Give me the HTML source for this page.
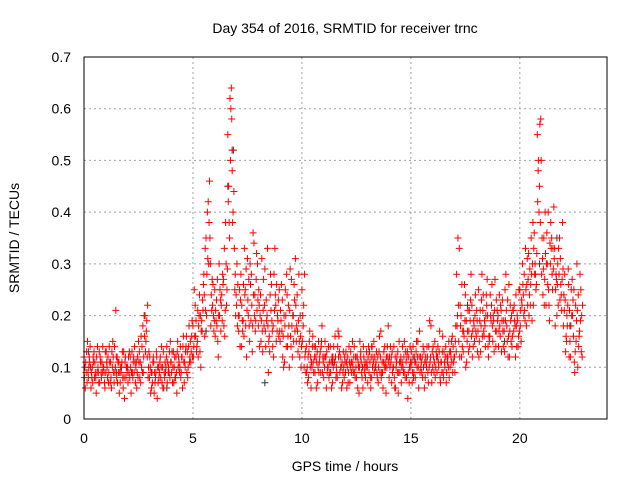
<!DOCTYPE html>
<html><head><meta charset="utf-8"><style>
body{margin:0;background:#fff}
svg{display:block;font-family:"Liberation Sans",sans-serif}
</style></head><body>
<svg id="chart" width="640" height="480" viewBox="0 0 640 480" xmlns="http://www.w3.org/2000/svg">
<rect width="640" height="480" fill="#fff"/>
<text x="345" y="33" font-size="14" text-anchor="middle">Day 354 of 2016, SRMTID for receiver trnc</text>
<text x="345" y="471" font-size="14" text-anchor="middle">GPS time / hours</text>
<text transform="translate(19,238) rotate(-90)" font-size="14" text-anchor="middle">SRMTID / TECUs</text>
<g id="grid"></g>
<g id="ticks"></g>
<g id="marks"></g>
<rect x="84" y="57" width="523" height="362" fill="none" stroke="#000" stroke-width="1"/>
</svg>
<script>
const xTicks=[0,5,10,15,20];
const yTicks=[0,0.1,0.2,0.3,0.4,0.5,0.6,0.7];
const yTickLabels=["0","0.1","0.2","0.3","0.4","0.5","0.6","0.7"];
const seriesA=[.12,.09,.08,.10,.07,.11,.09,.13,.08,.10,.09,.12,.07,.10,.14,.08,.11,.09,.06,.12,.10,.08,.13,.09,.11,.15,.07,.18,.20,.12,.08,.06,.11,.09,.07,.12,.10,.08,.14,.09,.11,.13,.08,.15,.10,.12,.07,.16,.14,.11,.18,.22,.15,.24,.19,.28,.35,.42,.30,.22,.25,.18,.30,.22,.27,.38,.55,.62,.48,.33,.22,.17,.28,.19,.25,.31,.15,.22,.34,.27,.18,.24,.13,.29,.20,.16,.26,.12,.22,.19,.15,.23,.11,.28,.18,.14,.20,.31,.17,.12,.25,.10,.14,.08,.12,.16,.09,.13,.11,.15,.08,.12,.10,.14,.07,.11,.09,.16,.10,.13,.09,.12,.07,.11,.14,.08,.10,.13,.06,.11,.10,.13,.08,.15,.11,.07,.12,.09,.14,.10,.08,.12,.10,.06,.13,.09,.11,.15,.08,.12,.10,.14,.08,.12,.17,.09,.13,.11,.07,.12,.10,.15,.09,.13,.11,.08,.14,.12,.10,.16,.12,.28,.15,.20,.13,.24,.17,.14,.22,.18,.16,.25,.13,.21,.18,.27,.15,.22,.19,.14,.20,.16,.23,.13,.18,.26,.15,.21,.12,.19,.25,.22,.28,.18,.32,.26,.38,.30,.55,.45,.28,.35,.22,.40,.30,.25,.33,.20,.28,.24,.18,.13,.22,.15,.27,.11,.19,.14,.25];
const seriesB=[.08,.13,.10,.06,.12,.09,.14,.07,.11,.09,.13,.07,.11,.15,.09,.12,.05,.10,.13,.08,.07,.12,.09,.14,.06,.11,.16,.09,.13,.22,.12,.09,.05,.13,.10,.08,.06,.11,.07,.13,.09,.07,.12,.10,.14,.06,.11,.09,.18,.13,.12,.16,.21,.13,.17,.24,.20,.30,.18,.26,.16,.27,.20,.24,.18,.30,.42,.50,.38,.25,.30,.20,.14,.26,.18,.23,.30,.13,.20,.32,.25,.15,.21,.17,.33,.13,.19,.28,.15,.23,.21,.12,.18,.24,.10,.27,.15,.22,.13,.20,.15,.28,.09,.13,.06,.11,.14,.07,.12,.18,.12,.06,.14,.09,.12,.16,.08,.13,.06,.10,.13,.07,.10,.15,.09,.12,.05,.11,.14,.08,.07,.11,.14,.09,.13,.10,.17,.06,.11,.14,.12,.07,.14,.10,.05,.11,.14,.09,.12,.07,.13,.08,.11,.15,.09,.12,.06,.10,.14,.18,.14,.08,.12,.17,.09,.13,.07,.10,.13,.09,.09,.18,.33,.12,.17,.10,.21,.19,.12,.15,.21,.12,.18,.24,.14,.20,.16,.26,.13,.23,.14,.22,.17,.25,.15,.12,.20,.17,.24,.14,.18,.30,.21,.26,.20,.35,.22,.28,.42,.57,.35,.22,.30,.25,.38,.33,.18,.26,.35,.21,.24,.16,.29,.12,.20,.09,.30,.16,.13];
const seriesC=[.10,.07,.12,.09,.11,.08,.10,.12,.09,.07,.11,.09,.08,.12,.10,.07,.09,.11,.08,.10,.12,.10,.08,.11,.09,.13,.10,.12,.15,.08,.10,.07,.09,.12,.08,.10,.13,.09,.11,.08,.13,.10,.09,.12,.08,.14,.10,.13,.11,.16,.14,.19,.12,.20,.23,.16,.28,.38,.24,.20,.21,.15,.25,.19,.33,.22,.45,.60,.40,.28,.18,.25,.22,.16,.29,.20,.26,.18,.24,.21,.22,.19,.27,.14,.18,.24,.17,.21,.26,.16,.19,.16,.25,.14,.21,.18,.26,.15,.19,.16,.20,.12,.10,.15,.11,.09,.12,.10,.13,.09,.10,.13,.08,.11,.10,.12,.14,.09,.11,.08,.11,.09,.13,.10,.08,.12,.10,.09,.12,.10,.12,.08,.10,.12,.09,.13,.08,.11,.10,.12,.10,.13,.08,.11,.09,.12,.10,.08,.13,.10,.11,.09,.13,.10,.12,.08,.11,.14,.10,.09,.12,.10,.14,.08,.13,.11,.09,.15,.12,.14,.15,.20,.12,.26,.16,.19,.13,.23,.17,.20,.19,.15,.23,.17,.20,.14,.24,.18,.21,.17,.17,.21,.14,.19,.23,.17,.14,.22,.18,.16,.21,.26,.19,.31,.24,.28,.33,.25,.48,.38,.31,.27,.36,.22,.33,.29,.25,.30,.23,.27,.21,.15,.26,.18,.23,.13,.21,.17,.20];
const seriesD=[.06,.15,.11,.08,.13,.05,.09,.11,.14,.06,.10,.14,.06,.09,.21,.11,.07,.13,.04,.10,.09,.05,.11,.07,.12,.08,.14,.20,.17,.10,.05,.11,.07,.04,.09,.14,.06,.10,.09,.15,.07,.12,.05,.11,.09,.16,.13,.08,.12,.19,.25,.13,.18,.10,.21,.33,.40,.46,.21,.17,.19,.12,.23,.28,.16,.25,.38,.64,.52,.20,.26,.14,.19,.33,.12,.27,.19,.36,.17,.30,.14,.31,.18,.23,.09,.28,.14,.33,.17,.25,.26,.10,.20,.16,.29,.12,.23,.18,.28,.10,.18,.13,.07,.17,.10,.14,.06,.15,.09,.12,.15,.09,.11,.06,.14,.08,.17,.12,.07,.12,.06,.14,.11,.09,.12,.06,.15,.08,.10,.13,.14,.06,.12,.10,.08,.16,.09,.13,.05,.18,.14,.09,.06,.12,.15,.07,.09,.13,.04,.14,.07,.12,.15,.06,.10,.14,.08,.12,.19,.07,.09,.13,.11,.07,.16,.10,.12,.08,.15,.11,.18,.35,.22,.14,.26,.11,.17,.28,.14,.24,.13,.19,.28,.16,.24,.12,.20,.15,.27,.21,.24,.13,.19,.28,.12,.22,.16,.19,.14,.25,.15,.24,.33,.22,.29,.19,.36,.26,.50,.58,.24,.40,.30,.19,.35,.41,.28,.22,.31,.38,.28,.20,.12,.25,.16,.22,.10,.28,.12];
const seriesE=[.11,.09,.14,.10,.08,.12,.07,.09,.10,.13,.08,.11,.13,.07,.12,.09,.10,.08,.11,.09,.13,.09,.12,.10,.08,.11,.09,.16,.19,.13,.09,.12,.08,.10,.11,.07,.09,.12,.10,.11,.10,.08,.13,.09,.12,.11,.14,.10,.15,.12,.16,.14,.20,.17,.26,.21,.31,.35,.27,.19,.23,.20,.17,.26,.21,.29,.35,.58,.44,.24,.20,.23,.17,.24,.21,.18,.28,.24,.19,.23,.20,.17,.22,.19,.15,.21,.18,.24,.20,.17,.17,.20,.14,.22,.16,.20,.17,.24,.15,.14,.22,.09,.12,.10,.14,.12,.11,.09,.14,.11,.12,.10,.09,.12,.11,.10,.12,.10,.09,.11,.10,.11,.09,.12,.10,.11,.12,.10,.09,.11,.09,.12,.11,.10,.12,.09,.11,.10,.12,.11,.11,.10,.12,.09,.11,.10,.12,.11,.09,.11,.09,.11,.10,.12,.11,.10,.12,.09,.11,.13,.11,.12,.10,.11,.09,.12,.11,.13,.11,.12,.13,.22,.18,.17,.19,.15,.21,.16,.19,.17,.17,.21,.16,.19,.22,.16,.19,.20,.17,.19,.18,.19,.17,.21,.16,.19,.21,.18,.20,.17,.23,.20,.25,.27,.22,.30,.28,.32,.40,.50,.29,.32,.26,.34,.28,.31,.27,.33,.26,.29,.23,.18,.21,.20,.25,.15,.24,.19,.22];
const blackTimes=[0.2,1.5,3.8,5.6,6.6,6.8,8.3,9.6,11.4,13.2,15.1,17.6,19.3,20.9,21.7,22.3];
const blackValues=[0.13,0.09,0.06,0.17,0.45,0.52,0.07,0.20,0.11,0.14,0.12,0.22,0.15,0.30,0.35,0.18];
const x=h=>84+h*(523/24);
const y=v=>419-v*(362/0.7);
const NS='http://www.w3.org/2000/svg';
const grid=document.getElementById('grid'),ticks=document.getElementById('ticks'),marks=document.getElementById('marks');
function mk(tag,attrs,parent){const e=document.createElementNS(NS,tag);for(const k in attrs)e.setAttribute(k,attrs[k]);parent.appendChild(e);return e;}
yTicks.forEach((v,i)=>{
  if(i>0&&i<yTicks.length-1){const g=mk('line',{x1:84,x2:607,y1:y(v),y2:y(v),stroke:'#a0a0a0','stroke-dasharray':'2,3'},grid);
  
  }
  const t=mk('text',{x:71,y:y(v)+5,'font-size':14,'text-anchor':'end'},ticks);t.textContent=yTickLabels[i];
  
  
});
xTicks.forEach(h=>{
  if(h>0){const g=mk('line',{x1:x(h),x2:x(h),y1:57,y2:419,stroke:'#a0a0a0','stroke-dasharray':'2,3'},grid);
  
  }
  const t=mk('text',{x:x(h),y:443,'font-size':14,'text-anchor':'middle'},ticks);t.textContent=String(h);
  
  
});
function plus(px,py,col){
  const p=mk('path',{d:`M${px-3.5},${py}h7M${px},${py-3.5}v7`,stroke:col,'stroke-width':1,fill:'none'},marks);
  
  
}
blackTimes.forEach((h,i)=>plus(x(h),y(blackValues[i]),'#333'));
[seriesA,seriesB,seriesC,seriesD,seriesE].forEach((s,k)=>{
  s.forEach((v,i)=>plus(x(i*0.1+k*0.02),y(v),'#ff0000'));
});
</script>
</body></html>
